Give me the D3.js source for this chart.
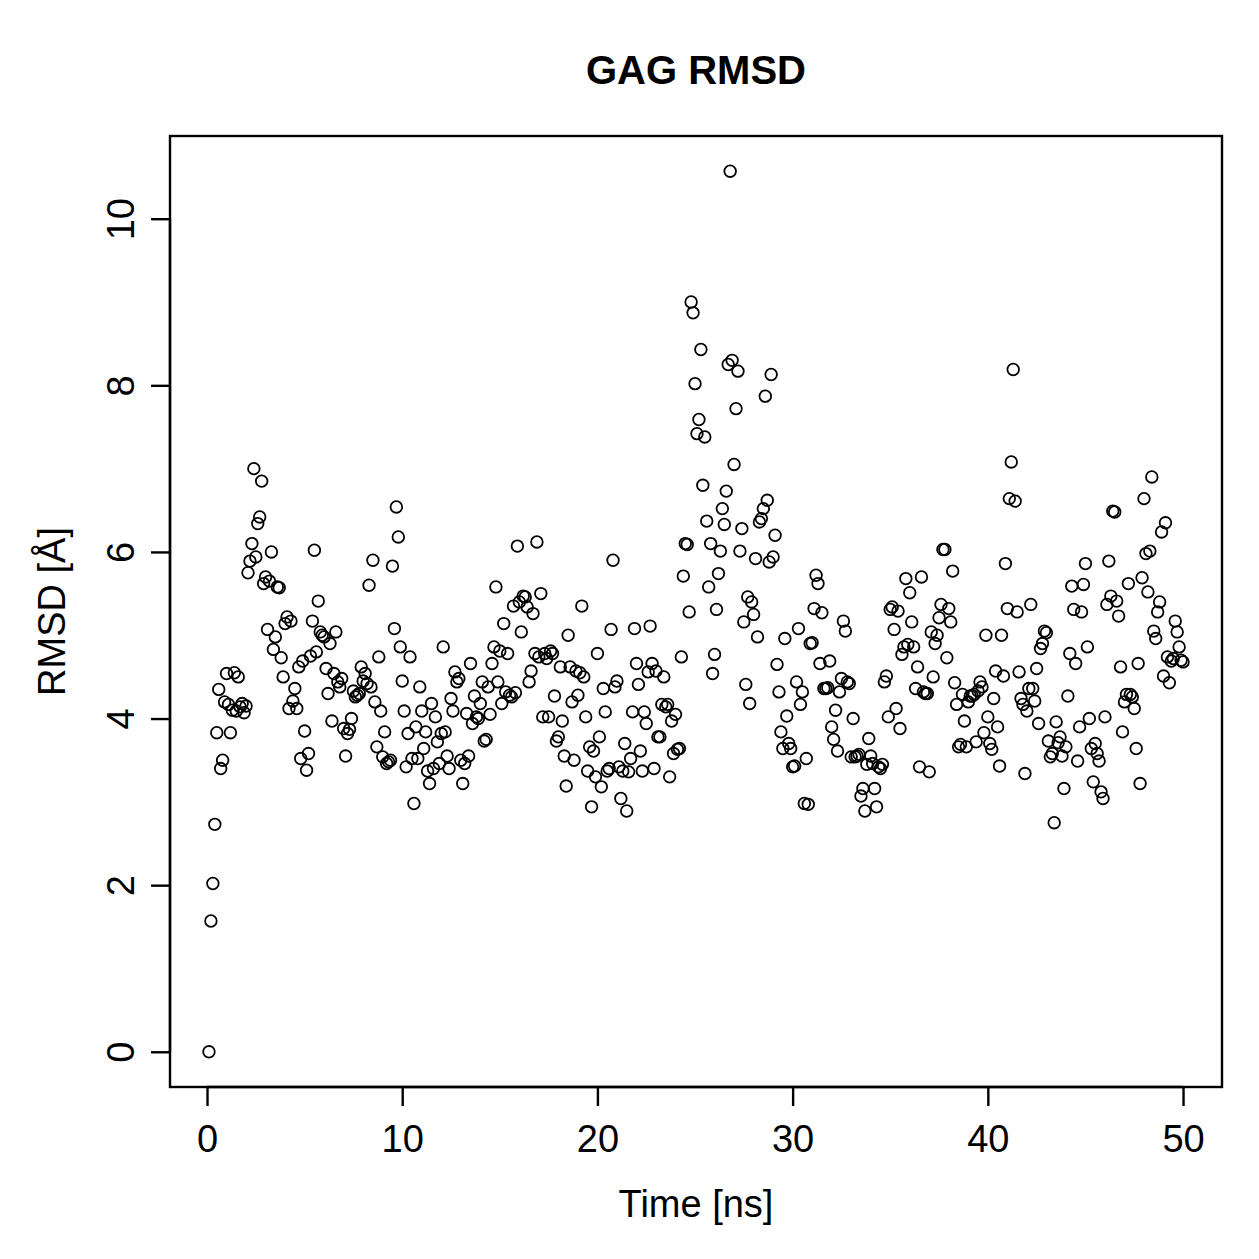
<!DOCTYPE html>
<html>
<head>
<meta charset="utf-8">
<script src="https://cdn.jsdelivr.net/npm/d3@7"></script>
<style>
  body { margin: 0; background: #fff; }
  svg text { font-family: "Liberation Sans", Arial, sans-serif; fill: #000; }
</style>
</head>
<body>
<div id="chart"></div>
<script>
// GAG RMSD scatter, one point per frame (every 0.1 ns)

const width = 1259;
const height = 1259;

const margin = { top: 136, right: 37, bottom: 172, left: 170 };

// time step between frames, ns
const frameStep = 0.1;

// RMSD values (Å), 10 frames per row
const rmsd = [
  0, 1.57, 2.02, 2.73, 3.83, 4.35, 3.40, 3.50, 4.20, 4.54,
  4.17, 3.83, 4.10, 4.55, 4.09, 4.50, 4.14, 4.18, 4.07, 4.15,
  5.75, 5.89, 6.10, 7.00, 5.94, 6.34, 6.42, 6.85, 5.62, 5.70,
  5.07, 5.65, 6.00, 4.83, 4.98, 5.58, 5.57, 4.73, 4.50, 5.14,
  5.22, 4.12, 5.17, 4.21, 4.36, 4.12, 4.62, 3.52, 4.69, 3.85,
  3.38, 3.58, 4.75, 5.17, 6.02, 4.80, 5.41, 5.04, 5.00, 4.98,
  4.60, 4.30, 4.90, 3.97, 4.54, 5.04, 4.44, 4.38, 4.48, 3.88,
  3.55, 3.82, 3.87, 4.00, 4.33, 4.26, 4.28, 4.30, 4.62, 4.45,
  4.54, 4.42, 5.60, 4.38, 5.90, 4.20, 3.66, 4.74, 4.09, 3.54,
  3.84, 3.46, 3.48, 3.50, 5.83, 5.08, 6.54, 6.18, 4.86, 4.45,
  4.09, 3.42, 3.82, 4.74, 3.52, 2.98, 3.90, 3.52, 4.38, 4.09,
  3.64, 3.84, 3.37, 3.22, 4.18, 3.40, 4.02, 3.72, 3.46, 3.82,
  4.86, 3.84, 3.55, 3.40, 4.24, 4.09, 4.56, 4.44, 4.48, 3.50,
  3.22, 3.46, 4.06, 3.55, 4.66, 3.94, 4.27, 4.02, 4.00, 4.18,
  4.44, 3.73, 3.75, 4.38, 4.05, 4.66, 4.86, 5.58, 4.44, 4.81,
  4.18, 5.14, 4.32, 4.78, 4.28, 4.26, 5.35, 4.31, 6.07, 5.40,
  5.04, 5.47, 5.46, 5.34, 4.44, 4.57, 5.26, 4.78, 6.12, 4.74,
  5.50, 4.02, 4.78, 4.72, 4.02, 4.81, 4.78, 4.27, 3.73, 3.78,
  4.62, 3.97, 3.55, 3.19, 5.00, 4.62, 4.20, 3.50, 4.57, 4.28,
  4.55, 5.35, 4.50, 4.02, 3.37, 3.66, 2.94, 3.61, 3.30, 4.78,
  3.78, 3.18, 4.36, 4.08, 3.37, 3.40, 5.07, 5.90, 4.38, 4.45,
  3.42, 3.04, 3.37, 3.70, 2.89, 3.36, 3.52, 4.08, 5.08, 4.66,
  4.41, 3.61, 3.37, 4.08, 3.94, 4.56, 5.11, 4.66, 3.40, 4.57,
  3.78, 3.78, 4.17, 4.50, 4.14, 4.17, 3.30, 3.97, 3.58, 4.05,
  3.63, 3.64, 4.74, 5.71, 6.10, 6.09, 5.28, 9.00, 8.87, 8.02,
  7.42, 7.59, 8.43, 6.80, 7.38, 6.37, 5.58, 6.10, 4.54, 4.77,
  5.31, 5.74, 6.01, 6.52, 6.33, 6.73, 8.25, 10.57, 8.30, 7.05,
  7.72, 8.17, 6.01, 6.28, 5.16, 4.41, 5.46, 4.18, 5.40, 5.25,
  5.92, 4.98, 6.36, 6.40, 6.52, 7.87, 6.62, 5.88, 8.13, 5.94,
  6.20, 4.65, 4.32, 3.84, 3.64, 4.96, 4.03, 3.70, 3.64, 3.42,
  3.43, 4.44, 5.08, 4.17, 4.32, 2.98, 3.52, 2.97, 4.90, 4.91,
  5.32, 5.72, 5.62, 4.66, 5.27, 4.36, 4.36, 4.37, 4.69, 3.90,
  3.75, 4.10, 3.61, 4.32, 4.48, 5.17, 5.05, 4.44, 4.42, 3.54,
  4.00, 3.54, 3.55, 3.57, 3.07, 3.16, 2.89, 3.45, 3.76, 3.55,
  3.46, 3.16, 2.94, 3.42, 3.40, 3.45, 4.44, 4.51, 4.02, 5.31,
  5.34, 5.07, 4.12, 5.29, 3.88, 4.77, 4.86, 5.68, 4.89, 5.51,
  5.16, 4.86, 4.36, 4.62, 3.42, 5.70, 4.32, 4.30, 4.30, 3.36,
  5.04, 4.50, 4.90, 5.00, 5.21, 5.37, 6.03, 6.03, 4.73, 5.32,
  5.16, 5.77, 4.43, 4.17, 3.66, 3.69, 4.29, 3.97, 3.66, 4.20,
  4.27, 4.27, 4.29, 3.72, 4.33, 4.44, 4.38, 3.83, 5.00, 4.02,
  3.70, 3.63, 4.24, 4.57, 3.90, 3.43, 5.00, 4.51, 5.86, 5.32,
  6.64, 7.08, 8.19, 6.61, 5.28, 4.56, 4.24, 4.17, 3.34, 4.09,
  4.36, 5.37, 4.36, 4.21, 4.60, 3.94, 4.84, 4.90, 5.05, 5.03,
  3.73, 3.54, 3.58, 2.75, 3.96, 3.71, 3.78, 3.55, 3.16, 3.66,
  4.27, 4.78, 5.59, 5.31, 4.66, 3.49, 3.90, 5.28, 5.61, 5.86,
  4.86, 4.00, 3.64, 3.24, 3.70, 3.58, 3.49, 3.12, 3.04, 4.02,
  5.37, 5.89, 5.47, 6.49, 6.48, 5.41, 5.23, 4.62, 3.84, 4.20,
  4.29, 5.62, 4.29, 4.26, 4.12, 3.64, 4.66, 3.22, 5.69, 6.64,
  5.98, 5.52, 6.01, 6.90, 5.05, 4.96, 5.28, 5.40, 6.24, 4.51,
  6.35, 4.74, 4.43, 4.69, 4.72, 5.17, 5.04, 4.86, 4.70, 4.68
];

const xTicks = [0, 10, 20, 30, 40, 50];
const yTicks = [0, 2, 4, 6, 8, 10];

const titleText = "GAG RMSD";
const xLabel = "Time [ns]";
const yLabel = "RMSD [Å]";

// build point table
const data = rmsd.map((v, i) => ({ time: (i + 1) * frameStep, value: v }));

// R style 4% padding on both axes
function padded(extent) {
    const pad = (extent[1] - extent[0]) * 0.04;
    return [extent[0] - pad, extent[1] + pad];
}

const plotLeft = margin.left;
const plotRight = width - margin.right;
const plotTop = margin.top;
const plotBottom = height - margin.bottom;

const xScale = d3.scaleLinear()
    .domain(padded(d3.extent(data, d => d.time)))
    .range([plotLeft, plotRight]);

const yScale = d3.scaleLinear()
    .domain(padded(d3.extent(data, d => d.value)))
    .range([plotBottom, plotTop]);

const svg = d3.select("#chart")
    .append("svg")
    .attr("width", width)
    .attr("height", height);

svg.append("rect")
    .attr("width", width)
    .attr("height", height)
    .attr("fill", "#fff");

// ---------- axes ----------

const fontSize = 38;

const xAxis = d3.axisBottom(xScale)
    .tickValues(xTicks)
    .tickSize(19)
    .tickPadding(19)
    .tickSizeOuter(0);

const yAxis = d3.axisLeft(yScale)
    .tickValues(yTicks)
    .tickSize(19)
    .tickPadding(12)
    .tickSizeOuter(0);

const xAxisGroup = svg.append("g")
    .attr("transform", `translate(0, ${plotBottom})`)
    .call(xAxis);

const yAxisGroup = svg.append("g")
    .attr("transform", `translate(${plotLeft}, 0)`)
    .call(yAxis);

[xAxisGroup, yAxisGroup].forEach(g => {
    g.select(".domain").remove();
    g.selectAll(".tick line")
        .attr("stroke", "#000")
        .attr("stroke-width", 2.4);
    g.selectAll(".tick text")
        .attr("font-size", fontSize)
        .attr("font-family", "Liberation Sans, Arial, sans-serif")
        .attr("fill", "#000");
});

// y tick labels are rotated like R's default las = 0
yAxisGroup.selectAll(".tick text")
    .attr("x", null)
    .attr("dy", null)
    .attr("text-anchor", "middle")
    .attr("transform", "translate(-36, 0) rotate(-90)");

// axis lines drawn from first to last tick (R style)
svg.append("line")
    .attr("x1", xScale(xTicks[0]))
    .attr("x2", xScale(xTicks[xTicks.length - 1]))
    .attr("y1", plotBottom)
    .attr("y2", plotBottom)
    .attr("stroke", "#000")
    .attr("stroke-width", 2.4);

svg.append("line")
    .attr("x1", plotLeft)
    .attr("x2", plotLeft)
    .attr("y1", yScale(yTicks[0]))
    .attr("y2", yScale(yTicks[yTicks.length - 1]))
    .attr("stroke", "#000")
    .attr("stroke-width", 2.4);

// ---------- points ----------

svg.append("g")
    .selectAll("circle")
    .data(data)
    .join("circle")
    .attr("cx", d => xScale(d.time))
    .attr("cy", d => yScale(d.value))
    .attr("r", 5.8)
    .attr("fill", "none")
    .attr("stroke", "#000")
    .attr("stroke-width", 1.8);

// ---------- box ----------

svg.append("rect")
    .attr("x", plotLeft)
    .attr("y", plotTop)
    .attr("width", plotRight - plotLeft)
    .attr("height", plotBottom - plotTop)
    .attr("fill", "none")
    .attr("stroke", "#000")
    .attr("stroke-width", 2.4);

// ---------- titles ----------

svg.append("text")
    .attr("x", (plotLeft + plotRight) / 2)
    .attr("y", 84)
    .attr("text-anchor", "middle")
    .attr("font-size", 40)
    .attr("font-weight", "bold")
    .text(titleText);

svg.append("text")
    .attr("x", (plotLeft + plotRight) / 2)
    .attr("y", 1217)
    .attr("text-anchor", "middle")
    .attr("font-size", fontSize)
    .text(xLabel);

svg.append("text")
    .attr("transform", `translate(65, ${(plotTop + plotBottom) / 2}) rotate(-90)`)
    .attr("text-anchor", "middle")
    .attr("font-size", fontSize)
    .text(yLabel);
</script>
</body>
</html>
